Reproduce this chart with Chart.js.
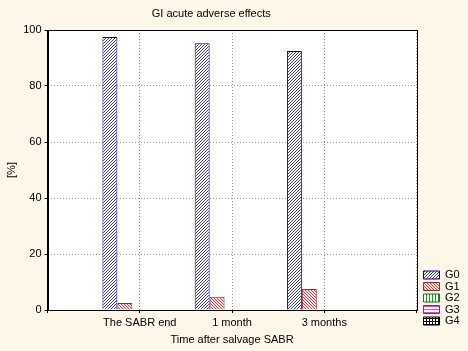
<!DOCTYPE html>
<html><head><meta charset="utf-8">
<script src="https://cdn.jsdelivr.net/npm/chart.js@4"></script>
<style>html,body{margin:0;background:#fcf7e9}</style>
</head><body>
<canvas id="c" width="468" height="351"></canvas>
<script>
// data
const categories = ['The SABR end', '1 month', '3 months'];
const seriesNames = ['G0', 'G1', 'G2', 'G3', 'G4'];
const g0 = [97.5, 95.3, 92.5];
const g1 = [2.5, 4.7, 7.5];
const g2 = [0, 0, 0];
const g3 = [0, 0, 0];
const g4 = [0, 0, 0];
const yTicks = [0, 20, 40, 60, 80, 100];

// small pixel hatch patterns, like the old Statistica fills
function hatch(bg, fg, test){
  const n = 6, cv = document.createElement('canvas'); cv.width = cv.height = n;
  const x = cv.getContext('2d');
  x.fillStyle = bg; x.fillRect(0,0,n,n);
  x.fillStyle = fg;
  for (let i=0;i<n;i++) for (let j=0;j<n;j++) if (test(i,j)) x.fillRect(i,j,1,1);
  return x.createPattern(cv, 'repeat');
}
const fills = [
  hatch('#ffffff', '#3a3a9c', (i,j)=>(i+j)%3===2),
  hatch('#fbe1e1', '#c24848', (i,j)=>(i-j+6)%3===0),
  hatch('#ffffff', '#1f9a1f', (i,j)=>i%3===0),
  hatch('#ffffff', '#d64ad6', (i,j)=>j%3===0),
  hatch('#ffffff', '#000000', (i,j)=>i%3===0||j%3===0)
];
const borders = ['#000080', '#a02828', '#008000', '#b000b0', '#000000'];
const values = [g0, g1, g2, g3, g4];

// empty slot at each end so the groups sit on the 1/4, 2/4, 3/4 grid lines
const labels = [''].concat(categories, ['']);
const pad = arr => [null].concat(arr, [null]);

const font = {family:'"Liberation Sans", Arial, sans-serif', size:11};

const frame = {
  id:'frame',
  afterLayout(c){
    // nudge legend down/right and centre the title over plot + axis, as in the picture
    const lg = c.legend;
    lg.bottom -= 24; lg.left += 6.5; lg.right += 6.5;
    c.titleBlock.right = c.chartArea.right + 6;
  },
  beforeDraw(c){
    const a = c.chartArea, ctx = c.ctx;
    ctx.save(); ctx.fillStyle = '#ffffff';
    ctx.fillRect(a.left, a.top, a.right-a.left, a.bottom-a.top); ctx.restore();
  },
  afterDraw(c){
    const a = c.chartArea, ctx = c.ctx;
    ctx.save(); ctx.strokeStyle = '#000'; ctx.lineWidth = 1;
    ctx.strokeRect(Math.round(a.left)+0.5, Math.round(a.top)+0.5, Math.round(a.right-a.left), Math.round(a.bottom-a.top));
    ctx.restore();
  }
};

new Chart(document.getElementById('c'), {
  type:'bar',
  data:{ labels, datasets: seriesNames.map((n,k)=>({
    label:n, data:pad(values[k]), backgroundColor:fills[k], borderColor:borders[k], borderWidth:1
  }))},
  options:{
    responsive:false, animation:false, devicePixelRatio:1,
    layout:{ padding:{ right:4.8 } },
    datasets:{ bar:{ categoryPercentage:0.81, barPercentage:1 } },
    plugins:{
      title:{ display:true, text:'GI acute adverse effects', color:'#000', font:{...font, weight:'normal'}, padding:{top:7.4, bottom:9.4} },
      legend:{ position:'right', align:'end',
        labels:{ boxWidth:16, boxHeight:8, padding:0.5, color:'#000', font } },
      tooltip:{ enabled:false }
    },
    scales:{
      x:{ type:'category', offset:false,
        grid:{ offset:false, color:'#9a9a9a', tickColor:'#000', tickLength:3 },
        border:{ color:'#000', dash:[1,2] },
        ticks:{ color:'#000', font, padding:3, autoSkip:false, maxRotation:0 },
        title:{ display:true, text:'Time after salvage SABR', color:'#000', font, padding:{top:1, bottom:4.6} } },
      y:{ min:0, max:100,
        afterBuildTicks: s => { s.ticks = yTicks.map(v=>({value:v})); },
        grid:{ color:'#9a9a9a', tickColor:'#000', tickLength:3 },
        border:{ color:'#000', dash:[1,2] },
        ticks:{ color:'#000', font, padding:3 },
        title:{ display:true, text:'[%]', color:'#000', font, padding:{top:5, bottom:2} } }
    }
  },
  plugins:[frame]
});
</script>
</body></html>
